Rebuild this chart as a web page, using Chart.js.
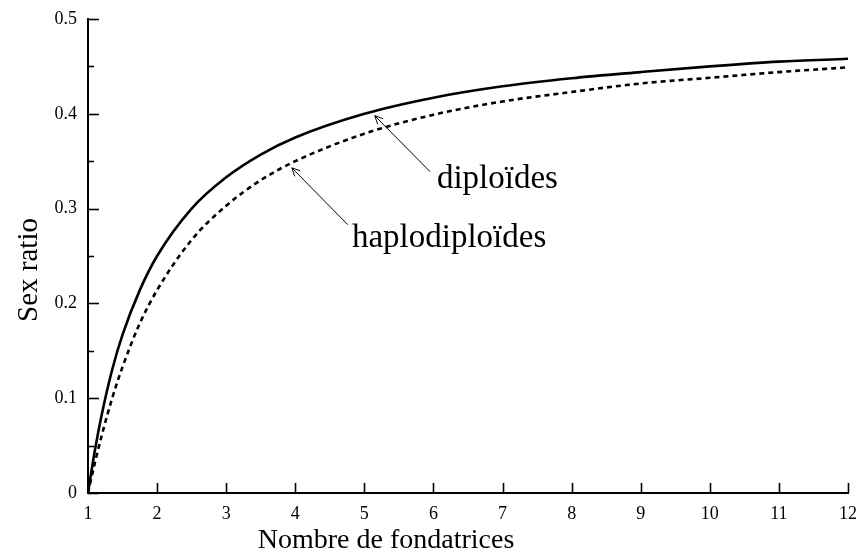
<!DOCTYPE html>
<html><head><meta charset="utf-8">
<script src="https://cdn.jsdelivr.net/npm/chart.js@4/dist/chart.umd.min.js"></script>
<style>html,body{margin:0;padding:0;background:#fff}#wrap{width:859px;height:554px}</style>
</head><body><div id="wrap"><canvas id="c" width="859" height="554"></canvas></div>
<script>
const fondatrices = [1, 1.1, 1.2, 1.35, 1.5, 1.75, 2, 2.5, 3, 3.5, 4, 5, 6, 7, 8, 9, 10, 11, 12];
const diploides = [0, 0.045, 0.083, 0.130, 0.167, 0.214, 0.250, 0.300, 0.333, 0.357, 0.375, 0.400, 0.417, 0.429, 0.4375, 0.444, 0.450, 0.455, 0.458];
const haplodiploides = [0, 0.032, 0.061, 0.100, 0.133, 0.179, 0.214, 0.267, 0.303, 0.330, 0.350, 0.379, 0.399, 0.413, 0.423, 0.432, 0.438, 0.444, 0.449];
const xTicks = [1,2,3,4,5,6,7,8,9,10,11,12];
const yTicks = [0, 0.1, 0.2, 0.3, 0.4, 0.5];
const xTitle = 'Nombre de fondatrices';
const yTitle = 'Sex ratio';
const labelDiplo = 'diploïdes';
const labelHaplo = 'haplodiploïdes';

const SERIF = '"Liberation Serif", "DejaVu Serif", serif';

const decor = {
  id: 'decor',
  afterDraw(chart) {
    const ctx = chart.ctx, xs = chart.scales.x, ys = chart.scales.y;
    ctx.save();
    ctx.strokeStyle = '#000';
    ctx.lineWidth = 1.6;
    // inward ticks
    const ax = xs.left, ay = ys.bottom;
    for (let v = 0; v <= 0.5001; v += 0.05) {
      const major = Math.abs(Math.round(v * 10) - v * 10) < 1e-6;
      const py = Math.round(ys.getPixelForValue(v)) + 0.5;
      ctx.beginPath(); ctx.moveTo(ax, py); ctx.lineTo(ax + (major ? 11 : 6), py); ctx.stroke();
    }
    for (const v of xTicks) {
      const px = Math.round(xs.getPixelForValue(v)) + 0.5;
      ctx.beginPath(); ctx.moveTo(px, ay); ctx.lineTo(px, ay - 10); ctx.stroke();
    }
    // axis titles
    ctx.fillStyle = '#000';
    ctx.font = '28px ' + SERIF;
    ctx.textAlign = 'center'; ctx.textBaseline = 'alphabetic';
    ctx.fillText(xTitle, 386, 548);
    ctx.save();
    ctx.translate(37, 270);
    ctx.rotate(-Math.PI / 2);
    ctx.font = '29px ' + SERIF;
    ctx.fillText(yTitle, 0, 0);
    ctx.restore();
    // annotations
    function arrow(x1, y1, x2, y2) {
      const p1x = xs.getPixelForValue(x1), p1y = ys.getPixelForValue(y1);
      const p2x = xs.getPixelForValue(x2), p2y = ys.getPixelForValue(y2);
      ctx.lineWidth = 1;
      ctx.beginPath(); ctx.moveTo(p1x, p1y); ctx.lineTo(p2x, p2y); ctx.stroke();
      const a = Math.atan2(p2y - p1y, p2x - p1x), L = 9, w = 0.45;
      ctx.beginPath();
      ctx.moveTo(p2x - L * Math.cos(a - w), p2y - L * Math.sin(a - w));
      ctx.lineTo(p2x, p2y);
      ctx.lineTo(p2x - L * Math.cos(a + w), p2y - L * Math.sin(a + w));
      ctx.stroke();
    }
    arrow(5.95, 0.339, 5.15, 0.398);
    arrow(4.76, 0.283, 3.95, 0.343);
    ctx.font = '33px ' + SERIF;
    ctx.textAlign = 'left';
    ctx.fillText(labelDiplo, xs.getPixelForValue(6.05), ys.getPixelForValue(0.322));
    ctx.fillText(labelHaplo, xs.getPixelForValue(4.82), ys.getPixelForValue(0.259));
    ctx.restore();
  }
};

const toPts = arr => fondatrices.map((x, i) => ({x, y: arr[i]}));

new Chart(document.getElementById('c'), {
  type: 'line',
  data: {
    datasets: [
      { label: labelDiplo, data: toPts(diploides), borderColor: '#000', borderWidth: 2.6, pointRadius: 0, fill: false, cubicInterpolationMode: 'monotone' },
      { label: labelHaplo, data: toPts(haplodiploides), borderColor: '#000', borderWidth: 2.6, borderDash: [5, 4], pointRadius: 0, fill: false, cubicInterpolationMode: 'monotone' }
    ]
  },
  options: {
    responsive: false,
    animation: false,
    events: [],
    layout: { padding: { top: 19, right: 11, left: 0, bottom: 0 } },
    plugins: { legend: { display: false }, tooltip: { enabled: false }, title: { display: false } },
    scales: {
      x: {
        type: 'linear', min: 1, max: 12,
        afterFit: s => { s.height = 61; s.paddingRight = 0; s.paddingLeft = 0; },
        afterBuildTicks: s => { s.ticks = xTicks.map(v => ({ value: v })); },
        grid: { display: false, drawTicks: false },
        border: { display: true, color: '#000', width: 2 },
        ticks: { color: '#000', padding: 10, maxRotation: 0, autoSkip: false, font: { family: SERIF, size: 18 } },
        title: { display: false }
      },
      y: {
        type: 'linear', min: 0, max: 0.5,
        afterFit: s => { s.width = 88; s.paddingTop = 0; s.paddingBottom = 0; },
        afterBuildTicks: s => { s.ticks = yTicks.map(v => ({ value: v })); },
        grid: { display: false, drawTicks: false },
        border: { display: true, color: '#000', width: 2 },
        ticks: { color: '#000', padding: 11, font: { family: SERIF, size: 18 },
          callback: v => v === 0 ? '0' : v.toFixed(1) },
        title: { display: false }
      }
    }
  },
  plugins: [decor]
});
</script></body></html>
